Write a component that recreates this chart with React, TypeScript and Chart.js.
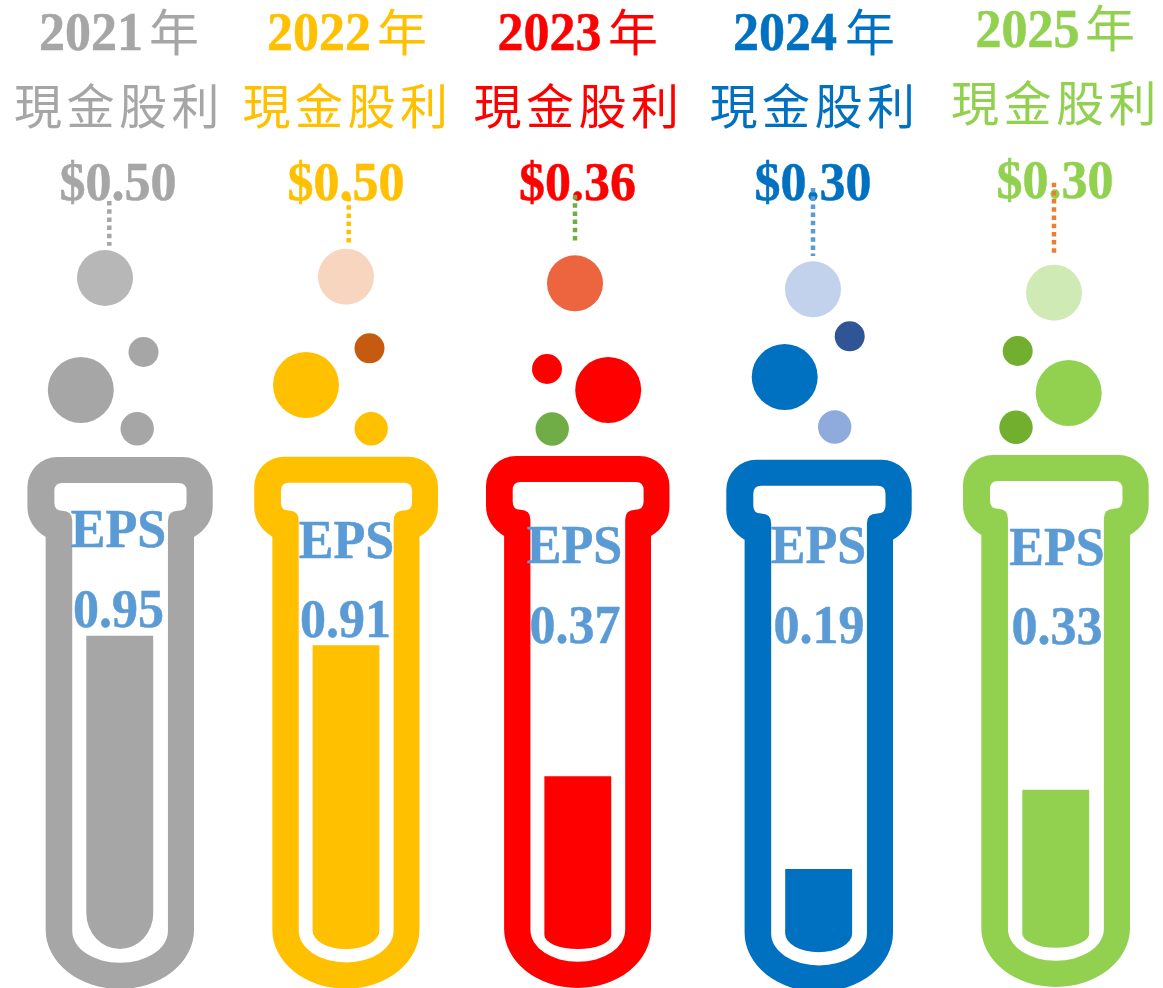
import React, { useEffect, useRef } from "react";
import { Chart, registerables } from "chart.js";

Chart.register(...registerables);

// ---- data ----
const years = ["2021", "2022", "2023", "2024", "2025"];
const dividendLabel = "現金股利";
const yearSuffix = "年";
const epsTitle = "EPS";
const cashDividend = [0.5, 0.5, 0.36, 0.3, 0.3];
const eps = [0.95, 0.91, 0.37, 0.19, 0.33];

// ---- styles ----
const tubeColors = ["#A6A6A6", "#FFC000", "#FF0000", "#0070C0", "#92D050"];
const connectorColors = ["#A6A6A6", "#FFC000", "#70AD47", "#5B9BD5", "#ED7D31"];
const topBubbleColors = ["#B7B7B7", "#F8D5BE", "#ED653F", "#C3D2EC", "#CFEAB5"];
const bubbleAColors = ["#A6A6A6", "#FFC000", "#FF0000", "#0070C0", "#92D050"];
const bubbleBColors = ["#A6A6A6", "#C55A11", "#FF0000", "#2F5597", "#72AF2F"];
const bubbleCColors = ["#A6A6A6", "#FFC000", "#70AD47", "#8FAADC", "#72AF2F"];
const epsColor = "#5B9BD5";

// ---- layout of the drawing, in page units ----
const tubeLeft = [27.4, 254.2, 486, 726.3, 963];
const tubeTop = [457, 456.7, 456, 459.7, 455];
const tubeWidth = [185.3, 183.8, 183.5, 185.4, 185.7];
const liquidCenter = [119.8, 346, 577.85, 818.7, 1055.8];
const liquidTop = [636, 645.7, 776.7, 869.3, 790];
const liquidBottom = [949, 949.3, 949, 952.3, 947.7];
const liquidCurve = [36, 19, 14, 19, 14];
const liquidWidth = 67;

const topBubbleX = [105, 346, 575, 813, 1054];
const topBubbleY = [278, 276.7, 283.3, 289.3, 292.7];
const bubbleAX = [80.8, 306, 608.2, 784.7, 1068.7];
const bubbleAY = [390, 385, 390, 377, 393];
const bubbleBX = [143.5, 369.5, 547, 849.7, 1017.7];
const bubbleBY = [352, 348.3, 369, 336.3, 351];
const bubbleCX = [137.2, 371.2, 552.2, 834.7, 1016];
const bubbleCY = [428.7, 428.7, 429, 427, 427.3];

const connectorX = [109.3, 348.7, 575, 813, 1054];
const connectorStart = [201, 197, 195, 188, 182.7];
const connectorEnd = [245.7, 243, 242.7, 256, 256];

const yearDigitX = [39, 267, 497.5, 733, 975.5];
const yearCharX = [149, 377, 608, 845, 1085];
const yearBaseline = [50, 50, 50, 50, 46.7];
const yearCharBaseline = [51, 51, 51, 51, 47];
const labelCenterX = [119, 347.5, 578.5, 814.5, 1056];
const labelBaseline = [124, 124, 124, 124, 121];
const dividendCenterX = [118, 346, 577.5, 813, 1055];
const dividendBaseline = [200, 200, 200, 200, 198];
const epsCenterX = [118.5, 346.5, 574.5, 818.5, 1057];
const epsBaseline = [547.3, 557.7, 562.7, 563.3, 565];
const epsValueCenterX = [118.5, 345.5, 575, 819, 1057];
const epsValueBaseline = [626.7, 636.7, 642.7, 642.7, 644.3];

const W = 1163;
const H = 988;
const serifBold = 'bold 52px "Liberation Serif"';
const cjkFont = '48px "Noto Sans CJK TC"';
const yearCharFont = '50px "Noto Sans CJK TC"';
const serifStretch = 1.06;

function tubePath(ctx: CanvasRenderingContext2D, i: number) {
  const k = tubeWidth[i] / 185.5;
  const l = tubeLeft[i];
  const t = tubeTop[i];
  const capR = l + 185.5 * k;
  const bodyL = l + 18.3 * k;
  const bodyR = l + 166.8 * k;
  const shoulder = t + 80;
  const straight = t + 473;
  const outerBottom = t + 532;
  const r = 30;
  // outer contour
  ctx.moveTo(bodyL, shoulder);
  ctx.bezierCurveTo(l + 7, shoulder - 7, l, shoulder - 17, l, shoulder - 30);
  ctx.arcTo(l, t, l + r, t, r);
  ctx.arcTo(capR, t, capR, t + r, r);
  ctx.lineTo(capR, shoulder - 30);
  ctx.bezierCurveTo(capR, shoulder - 17, capR - 7, shoulder - 7, bodyR, shoulder);
  ctx.lineTo(bodyR, straight);
  ctx.ellipse((bodyL + bodyR) / 2, straight, (bodyR - bodyL) / 2, outerBottom - straight, 0, 0, Math.PI);
  ctx.closePath();
  // inner contour
  const il = l + 44.9 * k;
  const ir = l + 140.7 * k;
  const cl = l + 27 * k;
  const cr = l + 159.3 * k;
  const ct = t + 26;
  const cb = t + 53.7;
  const innerStraight = t + 474;
  const innerBottom = t + 505.8;
  const rc = 8;
  ctx.moveTo(il, cb + 10);
  ctx.quadraticCurveTo(il, cb, il - 10, cb);
  ctx.quadraticCurveTo(cl, cb, cl, cb - rc);
  ctx.lineTo(cl, ct + rc);
  ctx.quadraticCurveTo(cl, ct, cl + rc, ct);
  ctx.lineTo(cr - rc, ct);
  ctx.quadraticCurveTo(cr, ct, cr, ct + rc);
  ctx.lineTo(cr, cb - rc);
  ctx.quadraticCurveTo(cr, cb, ir + 10, cb);
  ctx.quadraticCurveTo(ir, cb, ir, cb + 10);
  ctx.lineTo(ir, innerStraight);
  ctx.ellipse((il + ir) / 2, innerStraight, (ir - il) / 2, innerBottom - innerStraight, 0, 0, Math.PI);
  ctx.closePath();
}

function serifText(ctx: CanvasRenderingContext2D, text: string, x: number, y: number) {
  ctx.save();
  ctx.translate(x, y);
  ctx.scale(1, serifStretch);
  ctx.font = serifBold;
  ctx.strokeStyle = ctx.fillStyle;
  ctx.lineWidth = 0.5;
  ctx.fillText(text, 0, 0);
  ctx.strokeText(text, 0, 0);
  ctx.restore();
}

const tubesAndTextPlugin = {
  id: "tubesAndText",
  beforeDatasetsDraw(chart: any) {
    const ctx: CanvasRenderingContext2D = chart.ctx;
    ctx.save();
    years.forEach((year, i) => {
      ctx.fillStyle = tubeColors[i];
      ctx.beginPath();
      tubePath(ctx, i);
      ctx.fill("evenodd");

      ctx.textBaseline = "alphabetic";
      ctx.textAlign = "left";
      serifText(ctx, year, yearDigitX[i], yearBaseline[i]);
      ctx.font = yearCharFont;
      ctx.fillText(yearSuffix, yearCharX[i], yearCharBaseline[i]);

      ctx.textAlign = "center";
      ctx.font = cjkFont;
      (ctx as any).letterSpacing = "4.5px";
      ctx.fillText(dividendLabel, labelCenterX[i], labelBaseline[i]);
      (ctx as any).letterSpacing = "0px";

      serifText(ctx, "$" + cashDividend[i].toFixed(2), dividendCenterX[i], dividendBaseline[i]);

      ctx.fillStyle = epsColor;
      serifText(ctx, epsTitle, epsCenterX[i], epsBaseline[i]);
      serifText(ctx, eps[i].toFixed(2), epsValueCenterX[i], epsValueBaseline[i]);
    });
    ctx.restore();
  },
  beforeDatasetDraw(chart: any, args: any) {
    const i = args.index;
    if (i >= years.length) return;
    const ctx: CanvasRenderingContext2D = chart.ctx;
    const cx = liquidCenter[i];
    const hw = liquidWidth / 2;
    const start = liquidBottom[i] - liquidCurve[i];
    ctx.save();
    ctx.beginPath();
    ctx.moveTo(cx - hw, 0);
    ctx.lineTo(cx + hw, 0);
    ctx.lineTo(cx + hw, start);
    ctx.ellipse(cx, start, hw, liquidCurve[i], 0, 0, Math.PI);
    ctx.closePath();
    ctx.clip();
  },
  afterDatasetDraw(chart: any, args: any) {
    if (args.index < years.length) chart.ctx.restore();
  },
};

export default function App() {
  const ref = useRef<HTMLCanvasElement>(null);

  useEffect(() => {
    if (!ref.current) return;

    const scales: any = {
      x: { type: "linear", min: 0, max: W, display: false, offset: false, grid: { offset: false } },
      page: { type: "linear", min: 0, max: H, reverse: true, display: false },
    };
    years.forEach((_, i) => {
      // each tube was filled by hand, so each tube carries its own EPS scale
      const unit = eps[i] / (liquidBottom[i] - liquidTop[i]);
      scales["tube" + i] = {
        type: "linear",
        display: false,
        min: -(H - liquidBottom[i]) * unit,
        max: eps[i] + liquidTop[i] * unit,
      };
    });

    const barSets = years.map((year, i) => ({
      type: "bar" as const,
      label: year,
      data: [{ x: liquidCenter[i], y: eps[i] }],
      yAxisID: "tube" + i,
      backgroundColor: tubeColors[i],
      borderWidth: 0,
      barThickness: liquidWidth,
      grouped: false,
    }));

    const bubbles = (xs: number[], ys: number[], r: number, colors: string[], label: string) => ({
      type: "bubble" as const,
      label,
      data: xs.map((x, i) => ({ x, y: ys[i], r })),
      yAxisID: "page",
      backgroundColor: colors,
      borderWidth: 0,
      hoverRadius: 0,
    });

    const connectors = years.map((year, i) => ({
      type: "line" as const,
      label: "connector " + year,
      data: [
        { x: connectorX[i], y: connectorStart[i] },
        { x: connectorX[i], y: connectorEnd[i] },
      ],
      yAxisID: "page",
      borderColor: connectorColors[i],
      borderWidth: 4.5,
      borderDash: [4.5, 3.7],
      pointRadius: 0,
      fill: false,
    }));

    const chart = new Chart(ref.current, {
      data: {
        datasets: [
          ...barSets,
          bubbles(topBubbleX, topBubbleY, 28, topBubbleColors, "dividend bubble"),
          bubbles(bubbleAX, bubbleAY, 33, bubbleAColors, "large bubble"),
          bubbles(bubbleBX, bubbleBY, 15, bubbleBColors, "small bubble"),
          bubbles(bubbleCX, bubbleCY, 16.7, bubbleCColors, "medium bubble"),
          ...connectors,
        ] as any,
      },
      options: {
        animation: false,
        responsive: false,
        maintainAspectRatio: false,
        layout: { padding: 0, autoPadding: false },
        plugins: { legend: { display: false }, tooltip: { enabled: false } },
        events: [],
        scales,
      },
      plugins: [tubesAndTextPlugin],
    } as any);

    return () => chart.destroy();
  }, []);

  return (
    <div style={{ position: "absolute", left: 0, top: 0, width: W, height: H, overflow: "hidden", background: "#fff" }}>
      <canvas ref={ref} width={W} height={H} style={{ display: "block" }} />
    </div>
  );
}
